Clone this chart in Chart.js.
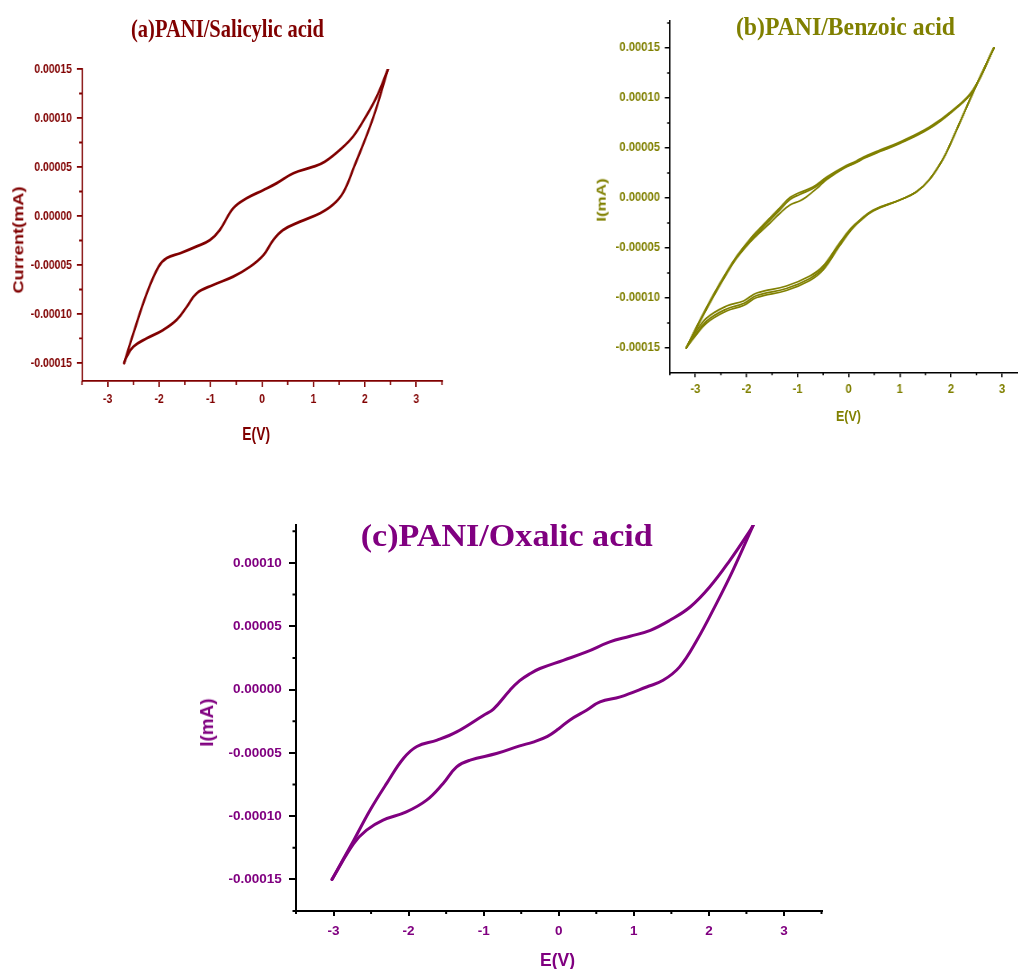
<!DOCTYPE html>
<html><head><meta charset="utf-8">
<script src="https://cdn.jsdelivr.net/npm/chart.js@4.4.1/dist/chart.umd.min.js"></script>
<style>
html,body{margin:0;padding:0;background:#fff;overflow:hidden;width:1018px;height:969px;}
.panel{position:absolute;transform-origin:0 0;}
.panel canvas{position:absolute;left:0;top:0;}
.txt{position:absolute;left:0;top:0;white-space:nowrap;line-height:1;font-weight:bold;transform-origin:0 0;}
</style></head><body>
<div id="pa" class="panel" style="left:0;top:0;width:575px;height:450px;transform:scaleX(0.8)"><canvas id="ca" width="575" height="450"></canvas></div>
<div id="pb" class="panel" style="left:580px;top:0;width:520px;height:440px;transform:scaleX(0.9)"><canvas id="cb" width="520" height="440"></canvas></div>
<div id="pc" class="panel" style="left:190px;top:480px;width:650px;height:489px;"><canvas id="cc" width="650" height="489"></canvas></div>
<script>
// ---------- tick values ----------
const xTickValues = [-3, -2, -1, 0, 1, 2, 3];
const yTickValuesAB = [-0.00015, -0.0001, -0.00005, 0, 0.00005, 0.0001, 0.00015];
const yTickValuesC = [-0.00015, -0.0001, -0.00005, 0, 0.00005, 0.0001];

// ---------- (a) PANI/Salicylic acid ----------
const aUpE = [-2.68,-2.50,-2.24,-2.01,-1.85,-1.59,-1.27,-1.01,-0.82,-0.56,-0.30,0.03,0.28,0.61,1.00,1.22,1.51,1.77,2.00,2.23,2.45];
const aUpI = [-150e-6,-119.7e-6,-79e-6,-51.7e-6,-43e-6,-38e-6,-31e-6,-24.5e-6,-14.3e-6,7.8e-6,18e-6,26.5e-6,33.3e-6,43.6e-6,50.3e-6,55.4e-6,67.3e-6,81e-6,99.7e-6,121.7e-6,150e-6];
const aLoE = [2.45,2.16,1.79,1.58,1.38,1.13,0.74,0.41,0.22,0.03,-0.23,-0.56,-0.95,-1.27,-1.46,-1.66,-1.92,-2.24,-2.50,-2.63,-2.68];
const aLoI = [150e-6,100e-6,50e-6,24e-6,11.5e-6,2.8e-6,-5.8e-6,-14.3e-6,-24.5e-6,-39.8e-6,-51.7e-6,-61.9e-6,-70.4e-6,-78.9e-6,-92.5e-6,-106.1e-6,-116.3e-6,-124.8e-6,-133.3e-6,-143.6e-6,-150e-6];

// ---------- (b) PANI/Benzoic acid (three cycles) ----------
const bUpE = [-3.18,-2.91,-2.64,-2.39,-2.19,-1.93,-1.73,-1.54,-1.34,-1.15,-0.96,-0.70,-0.43,-0.10,0.15,0.29,0.61,1.00,1.58,2.04,2.43,2.84];
const b1UpI = [-150e-6,-122e-6,-96e-6,-74e-6,-58e-6,-41e-6,-30e-6,-20e-6,-9.5e-6,0.5e-6,5.5e-6,11e-6,21e-6,31e-6,37e-6,41e-6,48e-6,56e-6,71e-6,88e-6,108e-6,150e-6];
const b2UpI = [-150e-6,-123e-6,-97e-6,-75e-6,-59e-6,-42.5e-6,-32e-6,-22e-6,-11.5e-6,-1.5e-6,3.5e-6,9.5e-6,19.5e-6,30e-6,36e-6,40e-6,47e-6,55e-6,70e-6,87.5e-6,107.5e-6,150e-6];
const b3UpE = [-3.18,-2.91,-2.64,-2.39,-2.19,-1.93,-1.73,-1.54,-1.34,-1.15,-0.96,-0.83,-0.57,-0.43,-0.10,0.15,0.29,0.61,1.00,1.58,2.04,2.43,2.84];
const b3UpI = [-150e-6,-123.5e-6,-98e-6,-76e-6,-60e-6,-44e-6,-34e-6,-25e-6,-15e-6,-7e-6,-3e-6,1e-6,12e-6,18.5e-6,29.5e-6,35.5e-6,39.5e-6,46.5e-6,54.5e-6,69.5e-6,87e-6,107e-6,150e-6];
const bLoE = [2.84,2.49,2.17,1.98,1.84,1.58,1.32,1.00,0.48,0.22,0.05,-0.18,-0.50,-0.76,-1.22,-1.80,-2.06,-2.39,-2.78,-3.03,-3.18];
const b1LoI = [150e-6,112e-6,75e-6,53e-6,38.5e-6,18.5e-6,6e-6,-2e-6,-12e-6,-22e-6,-30e-6,-45e-6,-68e-6,-78e-6,-88e-6,-95e-6,-103e-6,-108e-6,-120e-6,-137e-6,-150e-6];
const b2LoI = [150e-6,112e-6,75e-6,53e-6,38.5e-6,18.5e-6,6e-6,-2e-6,-12.5e-6,-22.5e-6,-31e-6,-46.5e-6,-70e-6,-80.5e-6,-90.5e-6,-97.5e-6,-105.5e-6,-111e-6,-123e-6,-139e-6,-150e-6];
const b3LoI = [150e-6,112e-6,75e-6,53e-6,38.5e-6,18.5e-6,6e-6,-2e-6,-13e-6,-23e-6,-32e-6,-48e-6,-72e-6,-82.5e-6,-92.5e-6,-99.5e-6,-107.5e-6,-113e-6,-125e-6,-140e-6,-150e-6];

// ---------- (c) PANI/Oxalic acid ----------
const cUpE = [-3.02,-2.73,-2.51,-2.29,-2.07,-1.89,-1.62,-1.36,-1.00,-0.87,-0.65,-0.52,-0.38,-0.25,0.06,0.37,0.68,0.95,1.22,1.48,1.75,2.01,2.28,2.55,2.60];
const cUpI = [-150e-6,-119e-6,-95e-6,-74e-6,-54.5e-6,-45e-6,-40e-6,-33.5e-6,-20.3e-6,-15.5e-6,-0.5e-6,7e-6,12.6e-6,16.6e-6,23.1e-6,29.7e-6,37.6e-6,42.1e-6,46.8e-6,54.7e-6,65.2e-6,81e-6,102.1e-6,125.8e-6,131e-6];
const cLoE = [2.60,2.32,2.10,1.84,1.61,1.39,1.17,0.82,0.55,0.37,0.15,0.00,-0.15,-0.34,-0.52,-0.83,-1.18,-1.36,-1.54,-1.76,-2.03,-2.34,-2.56,-2.73,-3.02];
const cLoI = [131e-6,94.2e-6,67.9e-6,38.9e-6,17.9e-6,7.3e-6,2e-6,-5.8e-6,-9.8e-6,-16.4e-6,-24e-6,-31e-6,-37e-6,-41.5e-6,-44.5e-6,-50.6e-6,-55.8e-6,-61.1e-6,-74.2e-6,-87.4e-6,-96.7e-6,-103.2e-6,-111.1e-6,-121.6e-6,-150e-6];

// ---------- helpers ----------
const SANS = "'Liberation Sans', Arial, sans-serif";
const SERIF = "'Liberation Serif', 'Times New Roman', serif";
const minorStore = {};

function minorVals(min, max, step, off) {
  const out = [];
  const start = Math.ceil((min - off) / step - 1e-9);
  for (let k = start; ; k++) {
    const v = k * step + off;
    if (v > max + step * 1e-6) break;
    if (v >= min - step * 1e-6) out.push(v);
  }
  return out;
}

const minorPlugin = {
  id: 'minorTicksDraw',
  afterDraw(chart) {
    const o = minorStore[chart.canvas.id];
    if (!o) return;
    const ctx = chart.ctx, ca = chart.chartArea, xs = chart.scales.x, ys = chart.scales.y;
    ctx.save();
    ctx.strokeStyle = o.color; ctx.lineWidth = o.width; ctx.beginPath();
    o.x.forEach(v => { const px = xs.getPixelForValue(v); ctx.moveTo(px, ca.bottom); ctx.lineTo(px, ca.bottom + o.xlen); });
    o.y.forEach(v => { const py = ys.getPixelForValue(v); ctx.moveTo(ca.left, py); ctx.lineTo(ca.left - o.ylen, py); });
    ctx.stroke(); ctx.restore();
  }
};

function makeChart(id, c) {
  minorStore[id] = {
    x: minorVals(-3.5, 3.5, 1, 0.5),
    y: minorVals(c.ymin, c.ymax, 0.00005, 0.000025),
    xlen: c.xminor, ylen: c.yminor, color: c.axis, width: c.bw
  };
  const datasets = c.series.map(s => ({
    data: s[0].map((e, i) => ({ x: e, y: s[1][i] })),
    showLine: true, borderColor: c.color, backgroundColor: c.color,
    borderWidth: c.lw, pointRadius: 0, tension: 0.4, fill: false,
    borderCapStyle: 'round', borderJoinStyle: 'round'
  }));
  const tickFont = { family: SANS, size: c.fs, weight: 'bold' };
  new Chart(document.getElementById(id), {
    type: 'scatter',
    data: { datasets },
    options: {
      responsive: false, animation: false, events: [],
      layout: { padding: { left: 0, top: c.top, right: c.right, bottom: 0 } },
      plugins: { legend: { display: false }, tooltip: { enabled: false } },
      scales: {
        x: {
          type: 'linear', min: -3.5, max: 3.5,
          afterFit(s) { s.height = c.xh; },
          afterBuildTicks(s) { s.ticks = xTickValues.map(v => ({ value: v })); },
          border: { display: true, color: c.axis, width: c.bw },
          grid: { drawOnChartArea: false, drawTicks: true, tickLength: c.xtl, color: c.axis, lineWidth: c.bw },
          ticks: { autoSkip: false, maxRotation: 0, padding: c.xpad, color: c.color, font: tickFont, callback: v => String(v) }
        },
        y: {
          type: 'linear', min: c.ymin, max: c.ymax,
          afterFit(s) { s.width = c.yw; },
          afterBuildTicks(s) { s.ticks = c.yticks.map(v => ({ value: v })); },
          border: { display: true, color: c.axis, width: c.bw },
          grid: { drawOnChartArea: false, drawTicks: true, tickLength: c.ytl, color: c.axis, lineWidth: c.bw },
          ticks: { autoSkip: false, padding: c.ypad, color: c.color, font: tickFont, callback: v => Number(v).toFixed(5) }
        }
      }
    },
    plugins: [minorPlugin]
  });
}

function placeText(panelId, t) {
  const p = document.getElementById(panelId);
  const d = document.createElement('div');
  d.className = 'txt';
  d.textContent = t.text;
  const fam = t.serif ? SERIF : SANS;
  d.style.fontFamily = fam;
  d.style.fontSize = t.size + 'px';
  d.style.color = t.color;
  p.appendChild(d);
  const ctx = document.createElement('canvas').getContext('2d');
  ctx.font = 'bold ' + t.size + 'px ' + fam;
  const w = ctx.measureText(t.text).width;
  const s = t.len / w;
  const bo = (t.serif ? 0.8375 : 0.8465) * t.size;
  if (t.rot) d.style.transform = `translate(${t.x}px,${t.y}px) rotate(-90deg) scaleX(${s}) translate(0px,${-bo}px)`;
  else d.style.transform = `translate(${t.x}px,${t.y}px) scaleX(${s}) translate(0px,${-bo}px)`;
}

// ---------- charts ----------
const colA = '#800000', colB = '#808000', colC = '#800080';

makeChart('ca', {
  series: [[aUpE, aUpI], [aLoE, aLoI]],
  color: colA, axis: colA, lw: 2.8, bw: 1.8,
  top: 69, right: 22.5, yw: 102.5, xh: 69,
  ymin: -168.4e-6, ymax: 150e-6, yticks: yTickValuesAB,
  fs: 13, ytl: 6.5, ypad: 6.1, xtl: 6, xpad: 4.4, xminor: 4, yminor: 3.5
});

makeChart('cb', {
  series: [[bUpE, b1UpI], [bUpE, b2UpI], [b3UpE, b3UpI], [bLoE, b1LoI], [bLoE, b2LoI], [bLoE, b3LoI]],
  color: colB, axis: '#000000', lw: 1.8, bw: 1.5,
  top: 20.7, right: 22.7, yw: 99.8, xh: 67.7,
  ymin: -174.3e-6, ymax: 177.3e-6, yticks: yTickValuesAB,
  fs: 12.5, ytl: 5.6, ypad: 5.3, xtl: 5, xpad: 4.4, xminor: 3, yminor: 3
});

makeChart('cc', {
  series: [[cUpE, cUpI], [cLoE, cLoI]],
  color: colC, axis: '#000000', lw: 3, bw: 2,
  top: 45, right: 18.5, yw: 106, xh: 58,
  ymin: -175e-6, ymax: 130e-6, yticks: yTickValuesC,
  fs: 13.5, ytl: 7, ypad: 7.3, xtl: 5, xpad: 6.7, xminor: 3, yminor: 3.5
});

// ---------- titles ----------
placeText('pa', { text: '(a)PANI/Salicylic acid', serif: true, size: 26, color: colA, x: 163.75, y: 37.7, len: 241.25 });
placeText('pa', { text: 'E(V)', size: 18, color: colA, x: 302.9, y: 440.7, len: 34.6 });
placeText('pa', { text: 'Current(mA)', size: 18, color: colA, x: 29.1, y: 293.5, len: 107, rot: true });

placeText('pb', { text: '(b)PANI/Benzoic acid', serif: true, size: 25, color: colB, x: 173.3, y: 35, len: 243.3 });
placeText('pb', { text: 'E(V)', size: 14, color: colB, x: 284.4, y: 420.7, len: 27.8 });
placeText('pb', { text: 'I(mA)', size: 15, color: colB, x: 27.8, y: 221.7, len: 43.3, rot: true });

placeText('pc', { text: '(c)PANI/Oxalic acid', serif: true, size: 31, color: colC, x: 170.7, y: 66, len: 292 });
placeText('pc', { text: 'E(V)', size: 18, color: colC, x: 350, y: 486.7, len: 35 });
placeText('pc', { text: 'I(mA)', size: 18, color: colC, x: 23.3, y: 266.7, len: 48.3, rot: true });
</script>
</body></html>
